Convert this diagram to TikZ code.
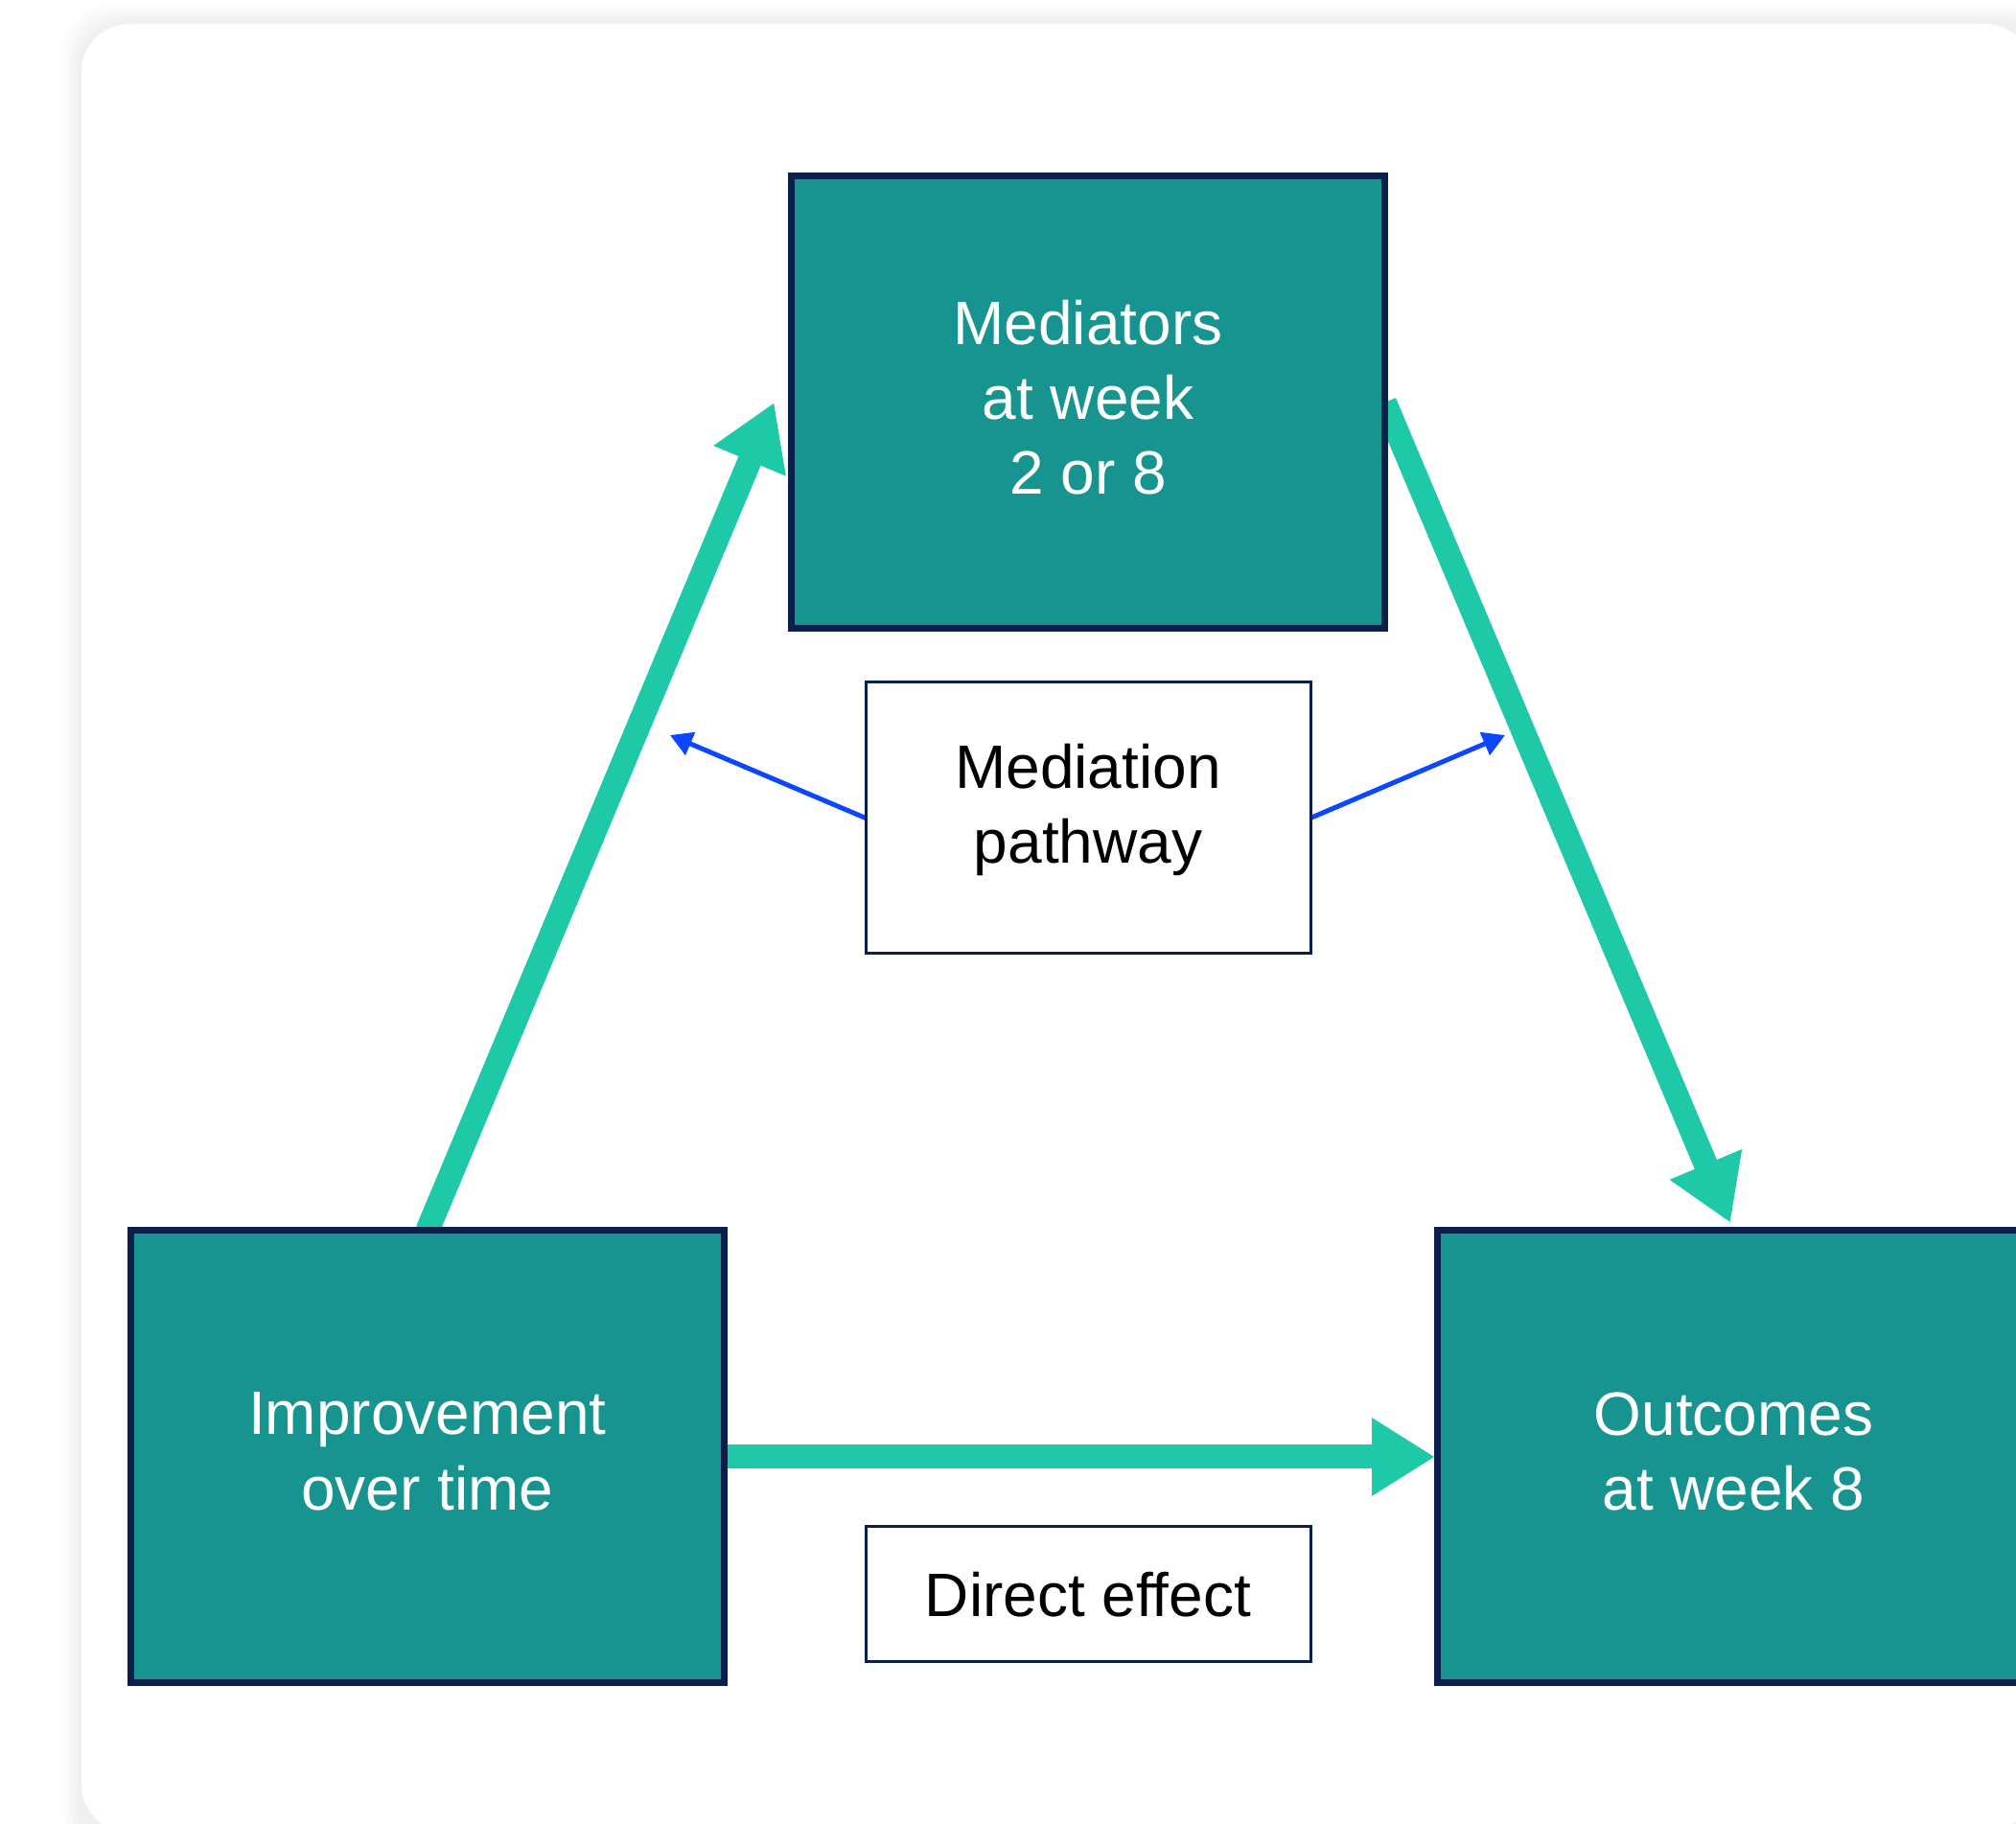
\documentclass[tikz,border=0pt]{standalone}
\usepackage{fontspec}
\setmainfont{Liberation Sans}
\usetikzlibrary{arrows.meta, positioning, calc, backgrounds}

\definecolor{boxteal}{HTML}{17948F}
\definecolor{boxnavy}{HTML}{0B1F4B}
\definecolor{flowgreen}{HTML}{1DC9A7}
\definecolor{linkblue}{HTML}{0A47FF}

\begin{document}
\begin{tikzpicture} [
    node distance=0.56cm,
    factor/.style={rectangle, draw=boxnavy, line width=0.07cm, fill=boxteal, text=white, minimum width=6.19cm, minimum height=4.72cm, outer sep=0pt, text depth=0.12cm, align=center, font=\fontsize{18.2}{22.2}\selectfont},
    note/.style={rectangle, draw=boxnavy, line width=0.03cm, fill=white, text=black, minimum width=4.64cm, outer sep=0pt, align=center, font=\fontsize{18.2}{22.2}\selectfont},
    flow/.style={line width=0.25cm, draw=flowgreen, -{Triangle[length=0.66cm, width=0.77cm]}},
    link/.style={line width=0.05cm, draw=linkblue, -{Triangle[length=0.23cm, width=0.25cm]}}
]

\useasboundingbox (0,0) rectangle (21.03,-19.03);

% Layer 1: the three factors and the two notes
\node[factor] (mediators) at (11.35,-4.20) {Mediators\\at week\\2 or 8};
\node[factor, below=6.28cm of mediators, xshift=-6.8925cm] (improvement) {Improvement\\over time};
\node[factor, below=6.28cm of mediators, xshift=6.735cm] (outcomes) {Outcomes\\at week 8};
\node[note, minimum height=2.83cm, text depth=0.31cm, below=of mediators] (pathway) {Mediation\\pathway};
\node[note, minimum height=1.41cm, below=5.98cm of pathway] (direct) {Direct effect};

% free ends of the pathway pointers
\coordinate (pathway tip left) at ($(pathway.west)+(-2.04,0.865)$);
\coordinate (pathway tip right) at ($(pathway.east)+(2.03,0.865)$);

% Layer 2: card and arrows behind the boxes
\begin{scope}[on background layer]
    % Card with a soft shadow
    \foreach \s in {0.20,0.16,0.12,0.08,0.04}
        \fill[black, opacity=0.01, rounded corners=0.5cm] ($(0.85,-0.25)+(-\s,\s)$) rectangle (21.4,-19.4);
    \fill[white, rounded corners=0.5cm] (0.85,-0.25) rectangle (21.2,-19.12);

    % Mediation path
    \draw[flow] (improvement.north) -- ($(mediators.west)+(-0.18,0)$);
    \draw[flow, shorten >=0.09cm] (mediators.east) -- (outcomes.north);

    % Direct path
    \draw[flow, shorten >=0.02cm] (improvement.east) -- (outcomes.west);

    % Pointers from the note
    \draw[link] (pathway.west) -- (pathway tip left);
    \draw[link] (pathway.east) -- (pathway tip right);
\end{scope}

\end{tikzpicture}
\end{document}
